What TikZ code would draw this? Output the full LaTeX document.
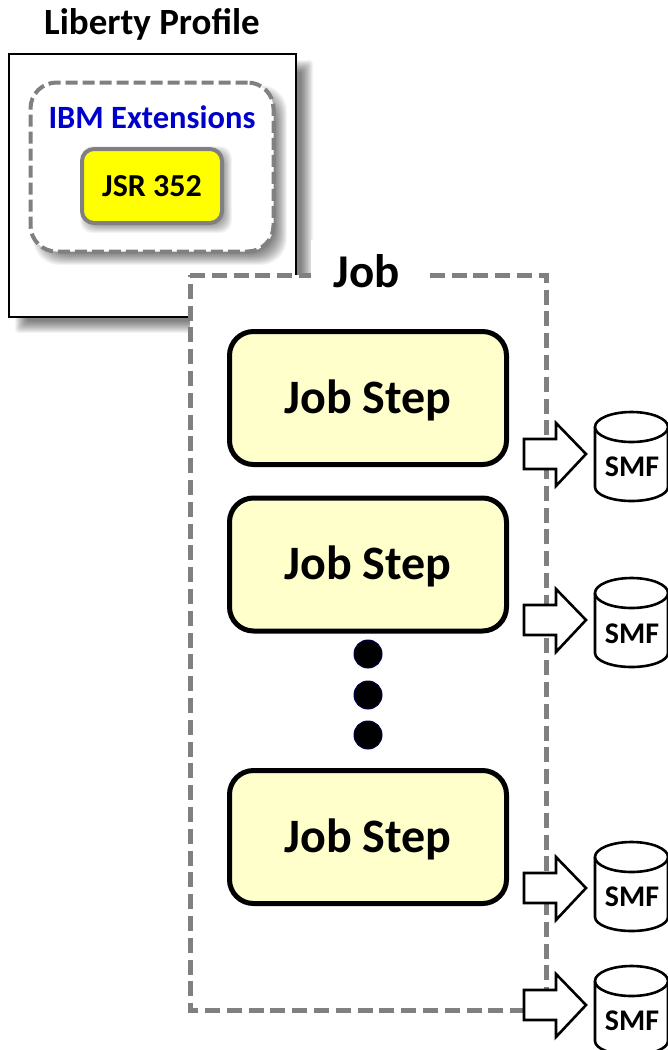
\documentclass[tikz,border=0pt]{standalone}
\usepackage{fontspec}
\setmainfont{Carlito}
\begin{document}
\begin{tikzpicture}[x=1pt,y=-1pt,
  txt/.style={font=\bfseries\fontsize{#1}{#1}\selectfont,inner sep=0pt,outer sep=0pt,text=black},
  stepbox/.style={draw=black,line width=5pt,fill=stepfill,rounded corners=24pt,minimum width=277pt,minimum height=133pt,inner sep=0pt,outer sep=0pt,text height=30pt,text depth=0pt},
  dotnode/.style={circle,fill=black,draw=black!70!blue,line width=1pt,minimum size=28pt,inner sep=0pt,outer sep=0pt},
  blockarrow/.style={draw=black,line width=2.6pt,fill=white,miter limit=10},
  cyl/.style={draw=black,line width=2.6pt,fill=white},
  dashouter/.style={draw=dashgray,line width=5pt,dash pattern=on 15pt off 6.8pt},
  dashinner/.style={draw=dashgray,line width=4pt,dash pattern=on 12pt off 5pt}
]
\definecolor{stepfill}{RGB}{255,255,204}
\definecolor{dashgray}{RGB}{128,128,128}
\definecolor{ibmblue}{RGB}{0,0,204}
\definecolor{jsryellow}{RGB}{255,255,0}
\newcommand{\softshadow}[5]{%
  \foreach \k in {-8,...,8}{%
    \fill[black,opacity=0.035,rounded corners=#5pt]
      ({#1-\k*0.75},{#2-\k*0.75}) rectangle ({#3+\k*0.75},{#4+\k*0.75});
  }}
\newcommand{\blockarr}[1]{%
  \draw[blockarrow] (524,#1-15) -- (556,#1-15) -- (556,#1-31) -- (586,#1) -- (556,#1+32) -- (556,#1+15) -- (524,#1+15) -- cycle;}
\newcommand{\smfcyl}[1]{%
  \draw[cyl] (595,#1+15) -- (595,#1+75) arc[start angle=180,end angle=0,x radius=36.5,y radius=14] -- (668,#1+15);
  \draw[cyl] (631.5,#1+15) ellipse[x radius=36.5,y radius=15];}
\useasboundingbox (0,0) rectangle (668,1050);
\clip (0,0) rectangle (668,1050);
\fill[white] (0,0) rectangle (668,1050);
% Liberty profile
\node[txt=37] (libtitle) at (152,24) {Liberty Profile};
\softshadow{21}{66}{307}{327}{3}
\node[draw=black,line width=2.2pt,fill=white,minimum width=287pt,minimum height=263pt,inner sep=0pt,outer sep=0pt] (liberty) at (152.5,185.5) {};
\softshadow{39}{91}{281}{259}{26}
\node[dashinner,fill=white,rounded corners=26pt,minimum width=243pt,minimum height=169pt,inner sep=0pt,outer sep=0pt] (ibm) at (152,167) {};
\node[txt=32.5,text=ibmblue] (ibmlabel) at (152,117) {IBM Extensions};
\softshadow{86}{152}{226}{227}{12}
\node[draw=dashgray,line width=4pt,fill=jsryellow,rounded corners=12pt,minimum width=140pt,minimum height=74pt,inner sep=0pt,outer sep=0pt,txt=32] (jsr) at (152,186) {JSR 352};
% Job
\draw[dashouter,fill=white] (190,275) coordinate (jobnw) -- (546,275) -- (546,1010) -- (190,1010) -- cycle;
\node[fill=white,minimum width=112pt,minimum height=57pt,inner sep=0pt,outer sep=0pt] (joblabelbg) at (367,268.5) {};
\node[txt=47] (joblabel) at (367,271.5) {Job};
\node[stepbox,txt=48] (step1) at (368,398) {Job Step};
\node[stepbox,txt=48] (step2) at (368,564.5) {Job Step};
\node[stepbox,txt=48] (step3) at (368,837) {Job Step};
\node[dotnode] (d1) at (368,654) {};
\node[dotnode] (d2) at (368,695) {};
\node[dotnode] (d3) at (368,735) {};
% Arrows
\blockarr{454}\blockarr{620}\blockarr{888}\blockarr{1005}
% Cylinders
\smfcyl{412}\smfcyl{578}\smfcyl{842}\smfcyl{966}
\node[txt=30] (smf1) at (632,467) {SMF};
\node[txt=30] (smf2) at (632,634) {SMF};
\node[txt=30] (smf3) at (632,897) {SMF};
\node[txt=30] (smf4) at (632,1021) {SMF};
\end{tikzpicture}
\end{document}
